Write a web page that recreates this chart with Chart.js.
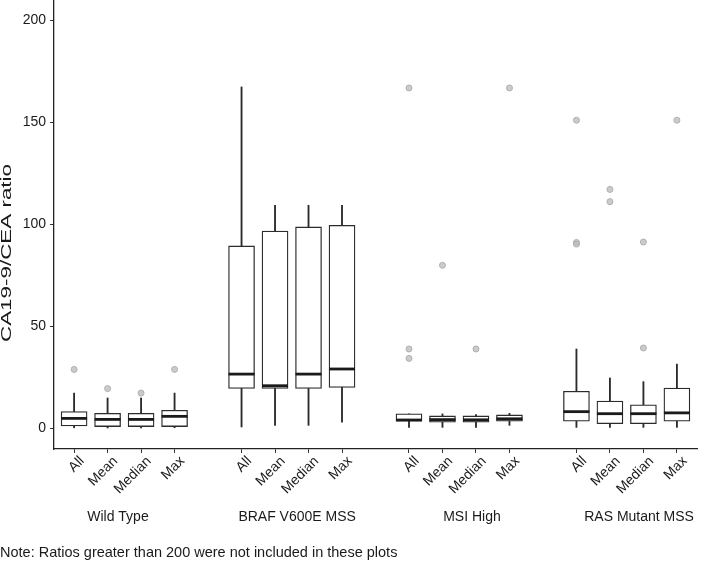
<!DOCTYPE html>
<html><head><meta charset="utf-8">
<script src="https://cdn.jsdelivr.net/npm/chart.js@4.4.1/dist/chart.umd.min.js"></script>
<style>html,body{margin:0;padding:0;background:#fff}#wrap{width:704px;height:564px}</style>
</head><body><div id="wrap"><canvas id="c" width="704" height="564"></canvas></div>
<script>
const groups = ['Wild Type', 'BRAF V600E MSS', 'MSI High', 'RAS Mutant MSS'];
const measures = ['All', 'Mean', 'Median', 'Max'];
const groupLabelPos = [2.31, 7.66, 12.88, 17.87];
const yTicks = [0, 50, 100, 150, 200];
const whiskerLow  = [0.4, 0.3, 0.3, 0.4,   0.8, 1.6, 1.6, 3.2,    0.6, 0.6, 0.6, 1.6,   0.6, 0.6, 0.6, 0.6];
const q1          = [1.3, 1.0, 1.0, 1.0,   19.7, 19.7, 19.7, 20.2, 3.6, 3.1, 3.1, 3.6,   3.6, 2.4, 2.4, 3.6];
const median      = [5.0, 4.5, 4.5, 6.0,   26.7, 21.0, 26.7, 29.2, 4.2, 4.4, 4.3, 4.8,   8.3, 7.3, 7.3, 7.7];
const q3          = [8.3, 7.5, 7.5, 9.0,   89.5, 96.8, 98.8, 99.6, 7.2, 6.2, 6.2, 6.7,   18.3, 13.5, 11.7, 19.9];
const whiskerHigh = [17.4, 15.0, 15.0, 17.4, 167.4, 109.4, 109.4, 109.4, 7.2, 7.2, 6.9, 7.5, 39.0, 24.8, 23.0, 31.6];
const outliers = [[29.0], [19.6], [17.4], [29.0], [], [], [], [], [166.9, 39.0, 34.4], [80.0], [39.0], [166.9], [151.1, 91.2, 90.4], [117.2, 111.2], [91.4, 39.5], [151.1]];
const yTitle = 'CA19-9/CEA ratio';
const noteText = 'Note: Ratios greater than 200 were not included in these plots';

const FONT = '"Liberation Sans", Arial, Helvetica, sans-serif';
const INK = '#1a1a1a';
const N = groups.length * measures.length;
const idx = [...Array(N).keys()];
const slotPos = idx.map(i => Math.floor(i / measures.length) * (measures.length + 1) + (i % measures.length) + 1);

const boxData = idx.map(i => ({x: slotPos[i], y: [q1[i], q3[i]]}));
const lowData = idx.map(i => ({x: slotPos[i], y: [whiskerLow[i], q1[i]]}));
const highData = idx.map(i => ({x: slotPos[i], y: [q3[i], whiskerHigh[i]]}));
const medData = idx.map(i => ({x: slotPos[i], y: median[i]}));
const outData = idx.flatMap(i => outliers[i].map(v => ({x: slotPos[i], y: v})));

const noPad = s => { s.paddingTop = 0; s.paddingBottom = 0; s.paddingLeft = 0; s.paddingRight = 0; };

const yTitlePlugin = {
  id: 'yTitle',
  afterDraw(chart) {
    const c = chart.ctx;
    c.save();
    c.font = '14px ' + FONT;
    c.fillStyle = INK;
    const w = c.measureText(yTitle).width;
    c.translate(7.5, 253);
    c.rotate(-Math.PI / 2);
    c.scale(178 / w, 1);
    c.textAlign = 'center';
    c.textBaseline = 'middle';
    c.fillText(yTitle, 0, 0);
    c.restore();
  }
};

new Chart(document.getElementById('c'), {
  type: 'bar',
  data: {
    datasets: [
      {type: 'bar', data: lowData, backgroundColor: '#2b2b2b', borderWidth: 0, barThickness: 1.2, grouped: false, order: 3},
      {type: 'bar', data: highData, backgroundColor: '#2b2b2b', borderWidth: 0, barThickness: 1.2, grouped: false, order: 3},
      {type: 'bar', data: boxData, backgroundColor: '#ffffff', borderColor: '#2b2b2b', borderWidth: 1.3, borderSkipped: false, barThickness: 26, grouped: false, order: 2},
      {type: 'scatter', data: medData, pointStyle: 'line', pointRadius: 13, borderWidth: 2.8, borderColor: INK, order: 1},
      {type: 'scatter', data: outData, pointStyle: 'circle', pointRadius: 3, backgroundColor: 'rgba(190,190,190,0.8)', borderColor: 'rgba(175,175,175,1)', borderWidth: 1, order: 0}
    ]
  },
  options: {
    responsive: false,
    animation: false,
    devicePixelRatio: 1,
    layout: {autoPadding: false, padding: {left: 0, right: 7, top: 0, bottom: 0}},
    plugins: {
      legend: {display: false},
      tooltip: {enabled: false},
      title: {display: true, position: 'bottom', align: 'start', text: noteText,
        font: {family: FONT, size: 14.5, weight: 'normal'}, color: INK, padding: {top: 10, bottom: 2}}
    },
    scales: {
      x: {
        type: 'linear', position: 'bottom', min: 0.4, max: 19.6, offset: false,
        afterBuildTicks: s => { s.ticks = slotPos.map(v => ({value: v})); },
        afterFit: s => { s.height = 58.6; noPad(s); },
        ticks: {autoSkip: false, minRotation: 45, maxRotation: 45, labelOffset: 8, padding: 0,
          font: {family: FONT, size: 14}, color: INK,
          callback: (v, i) => measures[i % measures.length]},
        grid: {display: true, offset: false, drawOnChartArea: false, drawTicks: true, tickLength: 4, color: '#333', lineWidth: 1},
        border: {display: true, color: '#222', width: 1.3}
      },
      x2: {
        type: 'linear', position: 'bottom', min: 0.4, max: 19.6, offset: false,
        afterBuildTicks: s => { s.ticks = groupLabelPos.map(v => ({value: v})); },
        afterFit: s => { s.height = 27; noPad(s); },
        ticks: {autoSkip: false, minRotation: 0, maxRotation: 0, padding: -7,
          font: {family: FONT, size: 14}, color: INK,
          callback: (v, i) => groups[i]},
        grid: {display: false, offset: false},
        border: {display: false}
      },
      y: {
        min: -10, max: 210, beginAtZero: false,
        afterBuildTicks: s => { s.ticks = yTicks.map(v => ({value: v})); },
        afterFit: s => { s.width = 54; noPad(s); },
        ticks: {padding: 4, font: {family: FONT, size: 14}, color: INK},
        grid: {drawOnChartArea: false, drawTicks: true, tickLength: 4, color: '#333'},
        border: {display: true, color: '#222', width: 1.3}
      }
    }
  },
  plugins: [yTitlePlugin]
});
</script>
</body></html>
